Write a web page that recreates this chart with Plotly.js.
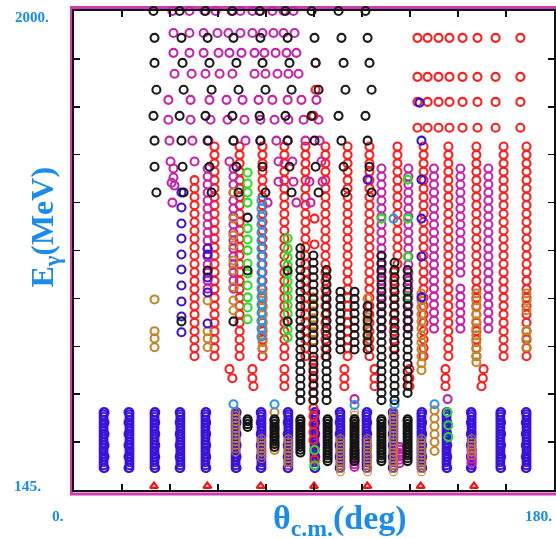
<!DOCTYPE html>
<html><head><meta charset="utf-8">
<script src="https://cdn.plot.ly/plotly-3.0.1.min.js"></script>
<style>html,body{margin:0;padding:0;background:#fff}#c{filter:blur(0.4px)}</style></head>
<body><div id="c" style="width:556px;height:539px"></div>
<script>
// Energies (MeV)
const redE=[663,695,728,760,793,825,858,890,923,955,988,1020,1053,1085,1118,1150,1183,1215,1248,1280,1313,1345,1378,1410,1443,1475];
const blackMidE=[493,521,549,577,605,633,661,689,717,745,773,801,829,857,885,913,941,969,997,1025,1053,1081];
const blackLowE=[257,268,279,290,301,312,323,334,345,356,367,378,389,400,411,419];
const blueLowE=[230,241,252,263,274,285,296,307,318,329,340,351,362,373,384,395,406,417,428,437,446];
const brownLowE=[215,228,240,253,266,279,292,305,318,331,344,357,370,383,396,409,422,435,448];
const magE=[1390,1359,1328,1297,1266,1235,1204,1173,1142,1111,1080,1049,1018,987,956,925,894,863,832,801,770];
const magGapE=[1390,1359,1328,1297,1266,1235,1204,1173,1142,1111,1080,1049,1018,987,925,894,863,832,801,770];
// Column angles (deg)
const blueLowTheta=[11.1,20.8,30.2,39.9,49.3,60.6,70.3,80.4,90.2,99.9,109.7,119.8,130.3,139.7,149.1,159.9,169.7];
const blueLowThetaB=[11.5,20.4,30.5,39.6,49.6,61.0,70.0,80.1,90.5,99.6,110.0,119.5,130.6,140.0,148.8,160.2,169.4];
const redTheta=[52.7,62.1,70.7,78.9,86.8,94.3,102.6,110.8,131.1,140.4,150.9,161.1,169.7];
const redTopTheta=[128.8,132.6,136.7,140.8,145.7,151.3,158.1,167.4];
const redTopE=[1896,1745,1648,1548];
const redLow=[[58.3,613],[59.4,578],[66.9,613],[66.9,578],[67.3,547],[78.9,613],[78.9,578],[78.9,547],[101.4,613],[101.4,578],[101.4,547],[112.7,613],[112.7,578],[112.7,547],[125.8,613],[125.8,578],[125.8,547],[139.3,613],[139.3,578],[139.3,547],[153.6,613],[153.3,578],[152.8,547]];
const redExtra=[[90.6,1799],[90.6,1695],[89.8,1594],[90.2,1196],[90.2,1096],[89.8,647],[89.8,616],[89.8,586],[89.8,555],[89.8,524],[89.8,493],[89.8,462],[89.8,431],[89.8,400],[89.8,369],[89.8,338],[90.2,300],[90.2,262]];
const blackRowsA=[2000,1594], blackRowsB=[1896,1498], blackRowsC=[1799,1397], blackRowsD=[1695,1297];
const blackThetaA=[29.8,39.6,49.3,59.4,69.6,79.3,89.1,99.2,109.3];
const blackThetaB=[30.2,40.3,50.1,59.8,69.9,80.1,90.2,100.3,110.1];
const blackThetaC=[30.2,40.7,50.8,60.9,70.7,80.8,90.6,101.1,110.8];
const blackThetaD=[30.9,41.1,51.6,61.7,71.8,81.6,91.7,101.8,111.6];
const blackExtra=[[65.1,1200],[50.1,995],[65.1,995],[80.1,995],[40.3,798],[59.8,798],[80.1,798]];
const magRows=[
 [2000,[36.9,43.3,48.9,53.1,59.1,62.4,66.9,69.9,74.4,78.6,82.3]],
 [1915,[37.3,43.3,48.6,53.8,57.9,62.4,66.9,70.7,74.8,78.6,82.7]],
 [1838,[37.3,43.3,48.6,54.2,58.3,62.8,67.7,71.4,75.6,79.7,83.4]],
 [1757,[37.7,44.1,49.3,54.6,59.4,67.7,71.8,76.3,80.4,84.2]],
 [1656,[35.4,43.7,50.8,57.2,63.2,69.2,74.4,80.1,85.3,90.9]],
 [1579,[35.4,43.7,51.2,57.6,63.9,69.9,75.2,80.4,86.1,91.7]],
 [1498,[35.8,44.4,50.4,59.8,64.3,69.9,75.9,80.1,86.8,92.1]],
 [1417,[36.2,45.2,58.3,76.7,81.9,92.8]],
 [1339,[76.7,82.3,88.3,93.2]],
 [1258,[36.9,72.6,83.4,88.7]]];
const magExtra=[[37.3,1390],[37.3,1355],[36.6,1335],[37.7,1324],[105.2,497],[140.1,497],[105.2,234],[105.2,245],[105.2,258],[105.2,272],[105.2,285],[105.2,298],[122.1,249],[122.1,262],[122.1,275],[122.1,288],[122.1,301],[122.1,311],[149.1,250],[149.1,265],[149.1,280],[149.1,300]];
const blueUp=[[40.3,1297],[40.3,1239],[40.3,1177],[40.3,1119],[40.3,1057],[40.3,999],[40.3,937],[40.3,875],[40.3,817],[40.3,756],[50.1,1080],[50.1,1057],[50.1,968],[50.1,910],[50.1,790],[129.6,1645],[130.3,1498],[110.1,1347],[130.3,1347],[130.3,1196],[130.3,1049],[130.3,891]];
const lightBlue=[[59.8,477],[75.2,477],[105.2,474],[120.2,477],[135.2,477],[119.8,1196]];
const lightBlueColE=[1266,1235,1204,1173,1142,1111,1080,1049,1018,987,956,925,894,863,832,801,770,739];
const greenColA=[1374,1332,1297,1258,1158,1115,1073,1022,984,937,891,852,806];
const greenColB=[1119,1080,1046,1015,984,953,922,891,860,829,798,767,736];
const greenExtra=[[125.1,1347],[115.3,1196],[125.1,1196],[125.1,1049],[125.1,891],[140.1,446],[140.4,396],[140.4,350],[90.2,240],[90.2,300]];
const brownCols=[
 [59.8,[1297,1196,1131,1092,1034,995,930,879,841]],
 [70.7,[906,879,852,825,798,771,744,717,690]],
 [89.8,[891,864,837,810,783,756,725]],
 [110.1,[887,814,790,766,742,725]],
 [130.3,[906,879,852,825,798,771,744,717,690,663,636,609]],
 [150.9,[906,879,852,825,798,771,744,717,690,663,640]],
 [169.7,[906,879,841,763,736,698]],
 [30.2,[883,760,732,698]],
 [50.1,[879,760,732,698]],
 [75.2,[446,415,384,353,322,300]],
 [135.2,[454,423,392,361,331,296]]];
const triTheta=[30,50,70,90,110,130,150], triE=[160,160,160,160,160,160,160];
const xTicks=[0,18,36,54,72,90,108,126,144,162,180];
const yTicks=[145,330.5,516,701.5,887,1072.5,1258,1443.5,1629,1814.5,2000];

function S(name,color,size,width){return {name,color,size:size||8,width:width||2.1,x:[],y:[]};}
function grid(s,ts,es){ts.forEach(t=>es.forEach(e=>{s.x.push(t);s.y.push(e);}));}
function pts(s,list){list.forEach(p=>{s.x.push(p[0]);s.y.push(p[1]);});}

const blueLow=S('blueLow','#3a12dc',8,1.9); grid(blueLow,blueLowTheta,blueLowE); grid(blueLow,blueLowThetaB,blueLowE.filter((e,i)=>i%4===0));
const red=S('red','#ff1e1e');
grid(red,redTheta,redE); grid(red,[45.2],redE.slice(0,22));
grid(red,[121.3],redE.slice(11)); grid(red,[120.0],redE.slice(0,11));
grid(red,redTopTheta,redTopE); pts(red,redLow); pts(red,redExtra);
const mag=S('mag','#c324ac');
magRows.forEach(r=>grid(mag,r[1],[r[0]])); pts(mag,magExtra);
grid(mag,[115.3,125.4,135,155.4],magE); grid(mag,[144.9],magGapE);
grid(mag,[50.1,59.8],magE.slice(0,16));
const brown=S('brown','#c5852a');
brownCols.forEach(c=>grid(brown,[c[0]],c[1]));
const brownLow=S('brownLow','#c5852a',7.6,1.1);
grid(brownLow,[60.6],brownLowE.slice(6)); grid(brownLow,[70.3],brownLowE.slice(4,11));
grid(brownLow,[80.4],brownLowE.slice(2,11)); grid(brownLow,[99.9,110.1,130.3],brownLowE.slice(0,11));
grid(brownLow,[105.2],brownLowE.slice(7)); grid(brownLow,[119.8],brownLowE);
grid(brownLow,[149.1],brownLowE.slice(5,11));
const blue2=S('blueUp','#3a12dc'); pts(blue2,blueUp);
const lb=S('lightBlue','#2a96e6'); pts(lb,lightBlue); grid(lb,[70.3],lightBlueColE);
const green=S('green','#25e025'); grid(green,[65.1],greenColA); grid(green,[80.1],greenColB); pts(green,greenExtra);
const black=S('black','#1c1c1c');
grid(black,blackThetaA,blackRowsA); grid(black,blackThetaB,blackRowsB);
grid(black,blackThetaC,blackRowsC); grid(black,blackThetaD,blackRowsD); pts(black,blackExtra);
grid(black,[84.9],blackMidE); grid(black,[89.8,115.3],blackMidE.slice(0,21));
grid(black,[94.7],blackMidE.slice(0,19)); grid(black,[120.2],blackMidE.slice(0,20));
grid(black,[125.1],blackMidE.slice(1,19));
grid(black,[99.9,105.2],blackMidE.slice(7,16)); grid(black,[110.1],blackMidE.slice(7,14));
const blackLow=S('blackLow','#141414',8,2.1);
grid(blackLow,[65.1],blackLowE.slice(12)); grid(blackLow,[75.2],blackLowE.slice(5));
grid(blackLow,[84.9],blackLowE.slice(3)); grid(blackLow,[95.1,105.2,115.3,125.1],blackLowE);

const data=[blueLow,red,mag,brown,brownLow,blue2,lb,green,black,blackLow].map(s=>({
  type:'scatter',mode:'markers',name:s.name,x:s.x,y:s.y,cliponaxis:false,
  marker:{symbol:'circle-open',size:s.size,color:s.color,line:{width:s.width,color:s.color}}
}));
data.push({type:'scatter',mode:'markers',name:'tri',x:triTheta,y:triE,cliponaxis:false,
  marker:{symbol:'triangle-up-open',size:7,color:'#ff1010',line:{width:2.2,color:'#ff1010'}}});

const axis={showgrid:false,zeroline:false,showline:true,linecolor:'#111',linewidth:2,mirror:'ticks',
  ticks:'inside',ticklen:6,tickwidth:1.5,tickcolor:'#111',showticklabels:false,tickmode:'array'};
const blueTxt='#1a8cec', serif='"Liberation Serif",serif';
const W=480.5,H=480,L=73.5,T=10.5;
const px=x=>(x-L)/W, py=y=>1-(y-T)/H;
function ann(text,x,y,size,extra){return Object.assign({text:'<b>'+text+'</b>',xref:'paper',yref:'paper',x:px(x),y:py(y),
  xanchor:'center',yanchor:'middle',showarrow:false,font:{family:serif,size,color:blueTxt}},extra||{});}
const layout={width:556,height:539,margin:{l:73.5,r:2,t:10.5,b:48.5},showlegend:false,
  paper_bgcolor:'#fff',plot_bgcolor:'#fff',
  xaxis:Object.assign({range:[0,180],tickvals:xTicks},axis),
  yaxis:Object.assign({range:[145,2000],tickvals:yTicks},axis),
  shapes:[{type:'rect',xref:'paper',yref:'paper',x0:px(71),x1:px(558),y0:py(494.5),y1:py(7),
    line:{color:'#cf3cb0',width:3},layer:'below'}],
  annotations:[
    ann('2000.',31,17,15),ann('145.',27,486,15.5),ann('0.',57,516,15.5),ann('180.',538,516,15.5),
    ann('θ<sub>c.m.</sub>(deg)',340,521,34),
    ann('E<sub>γ</sub>(MeV)',44,227,32,{textangle:-90})
  ]};
Plotly.newPlot('c',data,layout,{displayModeBar:false,staticPlot:true});
</script></body></html>
